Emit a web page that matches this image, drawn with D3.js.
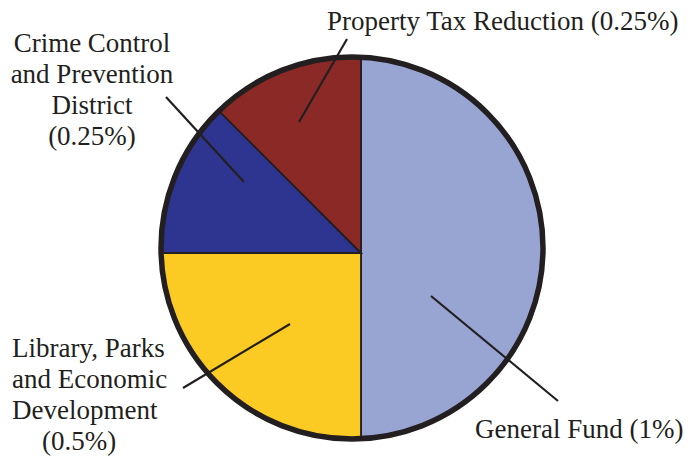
<!DOCTYPE html>
<html>
<head>
<meta charset="utf-8">
<script src="https://cdn.jsdelivr.net/npm/d3@7"></script>
<style>
  body { margin: 0; background: #fff; }
  svg { display: block; }
</style>
</head>
<body>
<div id="chart"></div>
<script>
// sales tax split (percent points)
var categories = ["General Fund", "Library, Parks and Economic Development", "Crime Control and Prevention District", "Property Tax Reduction"];
var rates = [1, 0.5, 0.25, 0.25];
var colours = ["#98a5d3", "#fbcb24", "#2e3590", "#8b2926"];
var labelLines = [
    ["General Fund (1%)"],
    ["Library, Parks", "and Economic", "Development", "(0.5%)"],
    ["Crime Control", "and Prevention", "District", "(0.25%)"],
    ["Property Tax Reduction (0.25%)"]
];

var width = 699, height = 456;
var ink = "#231f20";

var svg = d3.select("#chart")
    .append("svg")
    .attr("width", width)
    .attr("height", height);

// the slices meet a little off the centre of the outline in the original
var apex = {x: 361, y: 253};
var circ = {x: 352, y: 248, r: 191};

svg.append("clipPath")
    .attr("id", "pieclip")
    .append("circle")
    .attr("cx", circ.x)
    .attr("cy", circ.y)
    .attr("r", circ.r);

var pie = d3.pie().sort(null).value(function (d) { return d; });
var arc = d3.arc().innerRadius(0).outerRadius(280);

svg.append("g")
    .attr("clip-path", "url(#pieclip)")
    .append("g")
    .attr("transform", "translate(" + apex.x + "," + apex.y + ")")
    .selectAll("path")
    .data(pie(rates))
    .enter()
    .append("path")
    .attr("d", arc)
    .style("fill", function (d, i) { return colours[i]; })
    .style("stroke", ink)
    .style("stroke-width", 1.8);

// outline
svg.append("circle")
    .attr("cx", circ.x)
    .attr("cy", circ.y)
    .attr("r", circ.r)
    .style("fill", "none")
    .style("stroke", ink)
    .style("stroke-width", 5.5);

// leader lines + labels (layout only)
var leaders = [
    [431, 296, 558, 401],
    [290, 324, 183, 388],
    [244, 182, 166, 97],
    [299, 122, 347, 39]
];
var labelPos = [
    {x: 475, y: 438, anchor: "start", xs: [0]},
    {x: 12, y: 356.5, anchor: "start", xs: [0, 0, 0, 30]},
    {x: 92, y: 51.5, anchor: "middle", xs: [0, 0, 0, 0]},
    {x: 327, y: 29.5, anchor: "start", xs: [0]}
];

svg.selectAll("line.leader")
    .data(leaders)
    .enter()
    .append("line")
    .attr("class", "leader")
    .attr("x1", function (d) { return d[0]; })
    .attr("y1", function (d) { return d[1]; })
    .attr("x2", function (d) { return d[2]; })
    .attr("y2", function (d) { return d[3]; })
    .style("stroke", ink)
    .style("stroke-width", 2.2);

for (var i = 0; i < categories.length; i++) {
    var p = labelPos[i];
    var t = svg.append("text")
        .attr("font-family", "'Liberation Serif', 'DejaVu Serif', serif")
        .attr("font-size", "27px")
        .attr("fill", ink)
        .attr("text-anchor", p.anchor);
    labelLines[i].forEach(function (line, j) {
        t.append("tspan")
            .attr("x", p.x + p.xs[j])
            .attr("y", p.y + j * 31)
            .text(line);
    });
}
</script>
</body>
</html>
